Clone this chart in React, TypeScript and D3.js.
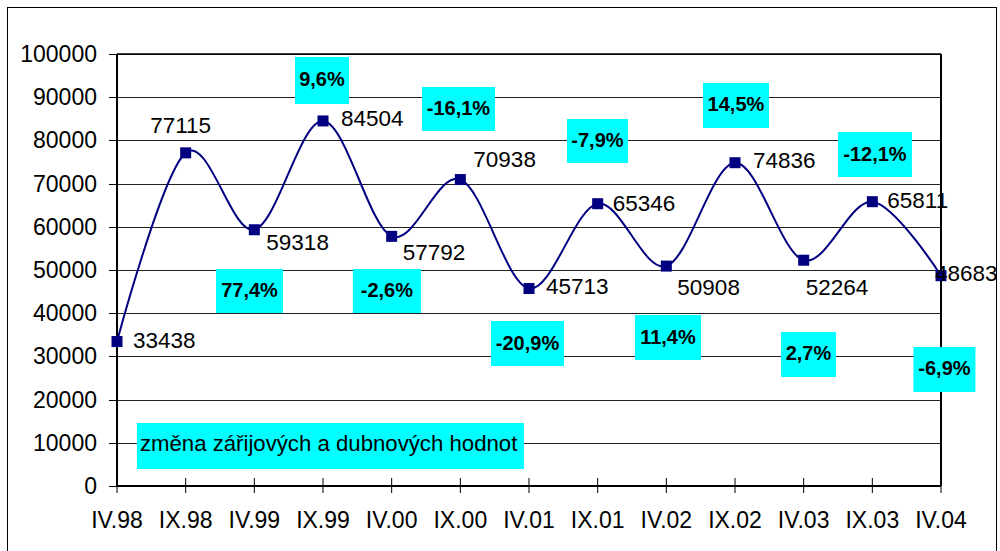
import React from "react";
import * as d3 from "d3";

const categories = ["IV.98", "IX.98", "IV.99", "IX.99", "IV.00", "IX.00", "IV.01", "IX.01", "IV.02", "IX.02", "IV.03", "IX.03", "IV.04"];
const values = [33438, 77115, 59318, 84504, 57792, 70938, 45713, 65346, 50908, 74836, 52264, 65811, 48683];
const yTicks = [0, 10000, 20000, 30000, 40000, 50000, 60000, 70000, 80000, 90000, 100000];
const changeLabels = ["77,4%", "9,6%", "-2,6%", "-16,1%", "-20,9%", "-7,9%", "11,4%", "14,5%", "2,7%", "-12,1%", "-6,9%"];
const legendText = "změna zářijových a dubnových hodnot";

// layout (not data): label offsets [dx, dy, anchor]
const labelOffsets: [number, number, string][] = [
  [16, 6, "start"], [-5, -20, "middle"], [12, 20, "start"], [18, 5, "start"],
  [11, 24, "start"], [13, -13, "start"], [17, 5, "start"], [15, 7, "start"],
  [11, 29, "start"], [18, 5, "start"], [2, 35, "start"], [15, 6, "start"], [-6, 5, "start"],
];
// annotation boxes anchored in data space: [categoryIndex, value, width, height]
const boxLayout: [number, number, number, number][] = [
  [1.93, 45139, 67, 44], [2.985, 93866, 54, 47], [3.93, 45139, 68, 44], [4.973, 87269, 73, 44],
  [5.978, 32986, 73, 45], [6.997, 79861, 61, 44], [8.024, 34375, 66, 45], [9.014, 88079, 66, 45],
  [10.07, 30440, 55, 45], [11.038, 76736, 74, 45], [12.05, 26968, 62, 45],
];
const legendLayout = { i: 0.29, v: 9259, w: 387, h: 46 };

const W = 1000, H = 551;
const L = 117, R = 941, T = 54, B = 486;
const FONT = "'Liberation Sans', Arial, sans-serif";

export default function App() {
  const x = d3.scalePoint<string>().domain(categories).range([L, R]);
  const xi = d3.scaleLinear().domain([0, categories.length - 1]).range([L, R]);
  const y = d3.scaleLinear().domain([0, 100000]).range([B, T]);
  const line = d3
    .line<number>()
    .x((_, i) => x(categories[i]) as number)
    .y((d) => y(d))
    .curve(d3.curveCatmullRom.alpha(0));
  const path = line(values) || "";
  const ms = 11;

  return (
    <svg width={W} height={H} style={{ position: "absolute", left: 0, top: 0, background: "#fff" }} fontFamily={FONT}>
      <rect x={7.5} y={7.5} width={989} height={570} fill="#fff" stroke="#000" strokeWidth={1} />
      {/* gridlines */}
      {yTicks.map((t) => (
        <line key={"g" + t} x1={L} x2={R} y1={Math.round(y(t)) + 0.5} y2={Math.round(y(t)) + 0.5} stroke="#222" strokeWidth={1} />
      ))}
      {/* plot border */}
      <line x1={R} x2={R} y1={T} y2={B} stroke="#000" strokeWidth={2} />
      <line x1={L} x2={R} y1={T} y2={T} stroke="#000" strokeWidth={1.5} />
      {/* y axis */}
      <line x1={L} x2={L} y1={T} y2={B} stroke="#000" strokeWidth={2} />
      {yTicks.map((t) => (
        <g key={"yt" + t}>
          <line x1={L - 8} x2={L} y1={Math.round(y(t)) + 0.5} y2={Math.round(y(t)) + 0.5} stroke="#000" strokeWidth={1} />
          <text x={97} y={y(t) + 8} textAnchor="end" fontSize={23} fill="#000">{t}</text>
        </g>
      ))}
      {/* x axis */}
      <line x1={L} x2={R} y1={B} y2={B} stroke="#000" strokeWidth={2} />
      {categories.map((c) => (
        <g key={"xt" + c}>
          <line x1={x(c)} x2={x(c)} y1={B - 8} y2={B + 7} stroke="#000" strokeWidth={1} />
          <text x={x(c)} y={528} textAnchor="middle" fontSize={23} fill="#000">{c}</text>
        </g>
      ))}
      {/* line */}
      <path d={path} fill="none" stroke="#000080" strokeWidth={2} />
      {values.map((v, i) => (
        <rect key={"m" + i} x={(x(categories[i]) as number) - ms / 2} y={y(v) - ms / 2} width={ms} height={ms} fill="#000080" />
      ))}
      {values.map((v, i) => (
        <text key={"l" + i} x={(x(categories[i]) as number) + labelOffsets[i][0]} y={y(v) + labelOffsets[i][1]}
          textAnchor={labelOffsets[i][2] as any} fontSize={22.5} fill="#000">{v}</text>
      ))}
      {/* change boxes */}
      {changeLabels.map((lab, k) => {
        const [bi, bv, bw, bh] = boxLayout[k];
        const cx = xi(bi), cy = y(bv);
        return (
          <g key={"b" + k}>
            <rect x={cx - bw / 2} y={cy - bh / 2} width={bw} height={bh} fill="#00FFFF" />
            <text x={cx} y={cy + 6} textAnchor="middle" fontSize={20} fontWeight="bold" fill="#000">{lab}</text>
          </g>
        );
      })}
      {/* legend box */}
      <rect x={xi(legendLayout.i)} y={y(legendLayout.v) - legendLayout.h / 2} width={legendLayout.w} height={legendLayout.h} fill="#00FFFF" />
      <text x={xi(legendLayout.i) + 3} y={y(legendLayout.v) + 5} fontSize={22.2} fill="#000">{legendText}</text>
    </svg>
  );
}
